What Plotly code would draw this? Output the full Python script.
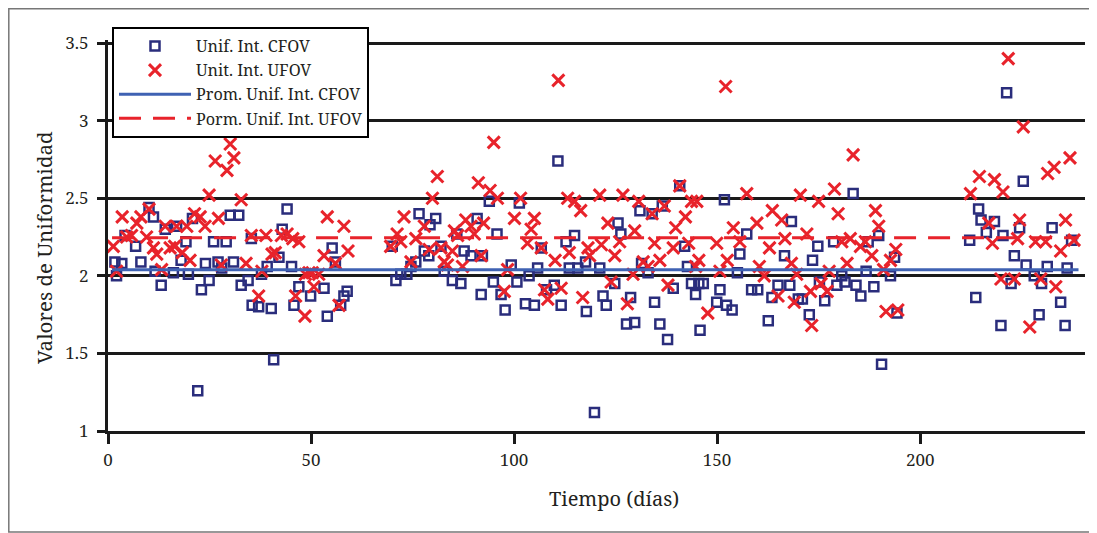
import plotly.graph_objects as go

# ---------------- data ----------------
cfov_day = [1.7, 2.1, 3.4, 4.2, 6.8, 8.1, 10.1, 11.2, 11.6, 13.1, 14.1, 16.1, 16.9, 18.0, 19.2, 19.8,
            20.8, 22.1, 23.0, 24.0, 24.9, 26.0, 27.1, 28.0, 29.1, 30.1, 30.9, 32.2, 32.8, 34.5, 35.3,
            35.5, 37.1, 37.8, 39.2, 40.2, 40.8, 42.1, 42.9, 44.1, 45.2, 45.8, 47.0, 49.9, 53.2, 54.0,
            55.2, 56.0, 57.3, 58.1, 58.9, 70.0, 70.9, 72.1, 73.6, 74.6, 75.8, 76.6, 77.9, 79.0, 79.3,
            80.7, 82.0, 82.8, 84.8, 85.9, 86.9, 87.7, 89.4, 90.9, 91.9, 92.2, 93.9, 94.9, 95.8, 96.8,
            97.8, 99.3, 100.7, 101.3, 102.8, 103.7, 105.0, 105.8, 106.7, 108.0, 109.9, 110.8, 111.6,
            112.8, 113.6, 114.9, 115.7, 117.6, 117.8, 119.8, 121.1, 121.9, 122.7, 124.8, 125.6, 126.3,
            127.7, 128.7, 129.7, 131.0, 131.4, 133.0, 134.0, 134.6, 135.9, 136.5, 137.8, 139.2, 140.8,
            142.0, 142.7, 143.7, 144.7, 145.5, 145.8, 146.6, 149.9, 150.7, 151.8, 152.3, 153.7, 155.0,
            155.6, 157.3, 158.5, 160.0, 162.6, 163.5, 165.0, 166.6, 167.9, 168.3, 170.0, 171.0, 172.7,
            173.5, 174.8, 175.2, 176.5, 178.7, 179.5, 180.7, 181.5, 183.5, 184.2, 185.4, 186.7, 187.2,
            188.6, 189.8, 190.5, 192.7, 193.7, 194.3, 212.2, 213.7, 214.4, 215.0, 216.3, 218.3, 219.9,
            220.4, 221.3, 222.4, 223.2, 224.5, 225.4, 226.1, 228.1, 229.3, 229.9, 231.3, 232.5, 234.6,
            235.7, 236.2, 237.3]
cfov_val = [2.09, 2.00, 2.08, 2.26, 2.19, 2.09, 2.44, 2.38, 2.03, 1.94, 2.30, 2.02, 2.32, 2.10, 2.22, 2.01,
            2.37, 1.26, 1.91, 2.08, 1.97, 2.22, 2.09, 2.05, 2.22, 2.39, 2.09, 2.39, 1.94, 1.97, 2.24,
            1.81, 1.80, 2.01, 2.06, 1.79, 1.46, 2.12, 2.30, 2.43, 2.06, 1.81, 1.93, 1.87, 1.92, 1.74,
            2.18, 2.09, 1.81, 1.87, 1.90, 2.19, 1.97, 2.01, 2.01, 2.06, 2.09, 2.40, 2.16, 2.13, 2.33,
            2.37, 2.19, 2.03, 1.97, 2.27, 1.95, 2.16, 2.13, 2.37, 1.88, 2.13, 2.48, 1.96, 2.27, 1.88,
            1.78, 2.07, 1.96, 2.47, 1.82, 2.00, 1.81, 2.05, 2.18, 1.91, 1.94, 2.74, 1.81,
            2.22, 2.05, 2.26, 2.05, 2.09, 1.77, 1.12, 2.05, 1.87, 1.81, 1.95, 2.34, 2.27,
            1.69, 1.86, 1.70, 2.42, 2.08, 2.02, 2.40, 1.83, 1.69, 2.45, 1.59, 1.92, 2.58,
            2.19, 2.06, 1.95, 1.88, 1.95, 1.65, 1.95, 1.83, 1.91, 2.49, 1.81, 1.78, 2.02,
            2.14, 2.27, 1.91, 1.91, 1.71, 1.86, 1.94, 2.13, 1.94, 2.35, 1.85, 1.85, 1.75,
            2.10, 2.19, 1.96, 1.84, 2.22, 1.94, 2.00, 1.96, 2.53, 1.94, 1.87, 2.03, 2.22,
            1.93, 2.26, 1.43, 2.00, 2.12, 1.76, 2.23, 1.86, 2.43, 2.36, 2.28, 2.35, 1.68,
            2.26, 3.18, 1.95, 2.13, 2.31, 2.61, 2.07, 2.00, 1.75, 1.95, 2.06, 2.31, 1.83,
            1.68, 2.05, 2.23]

ufov_day = [1.3, 2.1, 3.5, 4.6, 5.8, 7.1, 8.1, 9.5, 10.1, 11.2, 12.0, 13.2, 14.1, 15.3, 16.4, 16.9,
            18.3, 19.4, 20.2, 21.3, 22.7, 23.9, 24.9, 26.4, 27.2, 27.9, 29.3, 30.1, 31.0, 32.8, 34.0,
            35.3, 37.1, 37.9, 38.9, 40.4, 41.2, 42.7, 44.1, 45.5, 46.2, 47.0, 48.5, 48.6, 49.5, 50.3,
            50.7, 51.9, 53.2, 54.0, 56.0, 56.9, 58.1, 59.1, 69.6, 71.2, 72.1, 72.9, 74.6, 75.8, 77.9,
            79.1, 79.9, 81.1, 82.0, 82.8, 83.6, 84.8, 85.3, 86.1, 87.3, 88.1, 89.4, 90.2, 91.2, 91.9,
            92.5, 94.1, 95.0, 95.9, 97.6, 98.4, 100.1, 101.6, 103.3, 104.2, 105.0, 106.7, 107.5, 108.3,
            110.1, 110.9, 111.6, 113.2, 113.6, 114.9, 116.4, 116.9, 118.2, 118.6, 121.1, 121.5, 123.1,
            123.9, 124.8, 126.0, 126.8, 127.9, 129.3, 129.7, 130.7, 131.8, 133.0, 134.0, 134.6, 135.9,
            137.0, 137.9, 139.2, 139.8, 140.8, 142.2, 143.0, 143.7, 144.7, 145.0, 145.5, 147.7, 149.9,
            150.7, 152.1, 152.5, 154.0, 155.6, 157.3, 159.8, 160.4, 161.6, 162.9, 163.6, 165.0, 165.9,
            166.7, 168.3, 169.0, 169.6, 170.5, 172.1, 173.0, 173.3, 175.0, 175.6, 177.1, 177.6, 178.9,
            179.8, 180.7, 182.0, 182.8, 183.5, 185.3, 186.5, 188.1, 189.0, 189.8, 191.0, 191.6, 192.7,
            194.0, 194.5, 212.4, 214.6, 216.9, 217.8, 218.3, 219.9, 220.4, 221.7, 223.2, 224.0, 224.5,
            225.4, 227.0, 228.4, 229.7, 230.9, 231.4, 233.0, 233.4, 234.6, 235.8, 236.9, 237.9]
ufov_val = [2.19, 2.03, 2.38, 2.25, 2.26, 2.34, 2.38, 2.25, 2.43, 2.18, 2.14, 2.04, 2.32, 2.18, 2.19, 2.32,
            2.15, 2.32, 2.10, 2.40, 2.38, 2.32, 2.52, 2.74, 2.37, 2.07, 2.68, 2.85, 2.76, 2.49, 2.08,
            2.26, 1.87, 2.03, 2.26, 2.14, 2.15, 2.26, 2.27, 2.24, 1.87, 2.22, 1.74, 2.01, 2.02, 2.02,
            1.93, 2.01, 2.13, 2.38, 2.08, 1.81, 2.32, 2.16, 2.19, 2.27, 2.22, 2.38, 2.09, 2.24, 2.32,
            2.17, 2.50, 2.64, 2.18, 2.09, 2.07, 2.16, 2.29, 2.26, 2.06, 2.36, 2.32, 2.27, 2.60, 2.13,
            2.34, 2.55, 2.86, 2.50, 1.90, 2.04, 2.37, 2.50, 2.21, 2.30, 2.37, 2.18, 1.91, 1.85,
            2.10, 3.26, 1.92, 2.50, 2.15, 2.48, 2.42, 1.86, 2.18, 2.13, 2.52, 2.20, 2.34,
            1.96, 2.13, 2.22, 2.52, 1.82, 2.01, 2.29, 2.48, 2.09, 2.06, 2.40, 2.21, 2.10,
            2.45, 1.94, 2.18, 2.31, 2.58, 2.38, 2.21, 2.48, 2.06, 2.48, 2.10, 1.76, 2.21,
            2.03, 3.22, 2.10, 2.31, 2.22, 2.53, 2.34, 2.06, 2.00, 2.18, 2.42, 1.87, 2.36,
            2.24, 2.08, 1.83, 2.01, 2.52, 2.27, 1.90, 1.68, 2.48, 1.95, 1.90, 2.03, 2.56,
            2.40, 2.22, 2.08, 2.24, 2.78, 2.19, 2.22, 2.13, 2.42, 2.32, 2.04, 1.77, 2.10,
            2.17, 1.78, 2.53, 2.64, 2.34, 2.21, 2.62, 1.98, 2.54, 3.40, 1.98, 2.24, 2.36,
            2.96, 1.67, 2.22, 1.98, 2.22, 2.66, 2.70, 1.93, 2.16, 2.36, 2.76, 2.23]

mean_days = [1.0, 239.0]
cfov_mean = 2.04
ufov_mean = 2.245

x_ticks = [0, 50, 100, 150, 200]
y_ticks = [1, 1.5, 2, 2.5, 3, 3.5]
y_labels = ["1", "1.5", "2", "2.5", "3", "3.5"]

x_title = "Tiempo (días)"
y_title = "Valores de Uniformidad"

# ---------------- figure ----------------
NAVY = "#2a2d7c"
RED = "#e8232b"
BLUE = "#3f62b3"
TXT = "#231f20"
FONT = "Noto Serif, Liberation Serif, serif"

W, H = 1089, 525          # page body has an 8px margin
L, R, T, B = 100, 12, 32, 102
PW, PH = W - L - R, H - T - B

fig = go.Figure()
fig.add_trace(go.Scatter(
    x=cfov_day, y=cfov_val, mode="markers", name="Unif. Int. CFOV",
    marker=dict(symbol="square-open", size=9, color=NAVY, line=dict(width=2.5, color=NAVY)),
))
fig.add_trace(go.Scatter(
    x=ufov_day, y=ufov_val, mode="markers", name="Unit. Int. UFOV",
    marker=dict(symbol="x-thin", size=12, color=RED, line=dict(width=3, color=RED)),
))
fig.add_trace(go.Scatter(
    x=mean_days, y=[cfov_mean] * len(mean_days), mode="lines", name="Prom. Unif. Int. CFOV",
    line=dict(color=BLUE, width=3),
))
fig.add_trace(go.Scatter(
    x=mean_days, y=[ufov_mean] * len(mean_days), mode="lines", name="Porm. Unif. Int. UFOV",
    line=dict(color=RED, width=3, dash="22px,12px"),
))

fig.update_layout(
    width=W, height=H,
    margin=dict(l=L, r=R, t=T, b=B, autoexpand=False),
    paper_bgcolor="white", plot_bgcolor="white",
    font=dict(family=FONT, color=TXT, size=17),
    showlegend=True,
    legend=dict(
        x=4 / PW, y=1 + 13 / PH, xanchor="left", yanchor="top",
        bgcolor="white", bordercolor="black", borderwidth=2,
        font=dict(family=FONT, size=16.2, color=TXT),
        itemwidth=72, tracegroupgap=0, traceorder="normal",
    ),
    xaxis=dict(
        range=[0, 240.6], tickvals=x_ticks, showgrid=False, zeroline=False,
        showline=True, linecolor="#1a1a1a", linewidth=3,
        ticks="outside", ticklen=10, tickwidth=3, tickcolor="#1a1a1a",
        ticklabelstandoff=2,
        tickfont=dict(family=FONT, size=17, color=TXT),
        automargin=False,
    ),
    yaxis=dict(
        range=[1, 3.52], tickvals=y_ticks, ticktext=y_labels, showgrid=True,
        gridcolor="#1a1a1a", gridwidth=3, zeroline=False,
        showline=True, linecolor="#1a1a1a", linewidth=3,
        ticks="outside", ticklen=8, tickwidth=3, tickcolor="#1a1a1a",
        ticklabelstandoff=5,
        tickfont=dict(family=FONT, size=17, color=TXT),
        automargin=False,
    ),
    annotations=[
        dict(text=x_title, xref="paper", yref="paper", x=(606 - L) / PW, y=(T + PH - 491) / PH,
             xanchor="center", yanchor="middle", showarrow=False,
             font=dict(family=FONT, size=20, color=TXT)),
        dict(text=y_title, xref="paper", yref="paper", x=(36 - L) / PW, y=(T + PH - 240) / PH,
             xanchor="center", yanchor="middle", showarrow=False, textangle=-90,
             font=dict(family=FONT, size=20.5, color=TXT)),
    ],
    shapes=[dict(
        type="rect", xref="paper", yref="paper",
        x0=(0.8 - L) / PW, x1=(1085 - L) / PW,
        y0=(PH + T - 524) / PH, y1=(PH + T - 0.8) / PH,
        line=dict(color="#777777", width=1.5), fillcolor="rgba(0,0,0,0)", layer="below",
    )],
)

fig.write_html("out.html")
